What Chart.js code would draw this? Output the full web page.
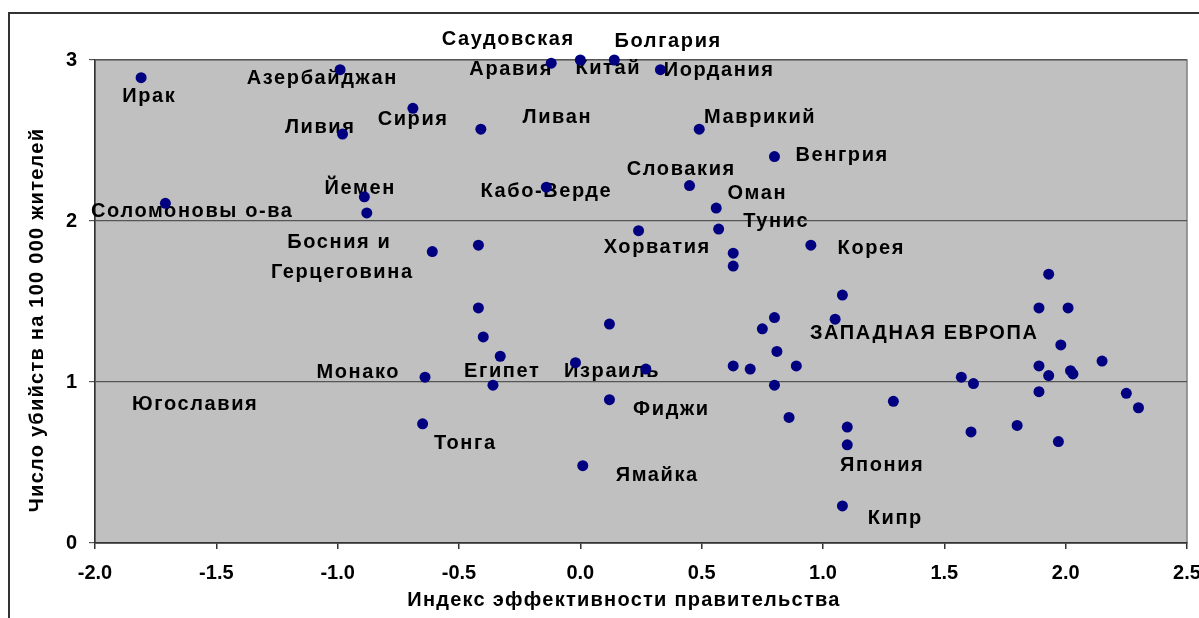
<!DOCTYPE html>
<html>
<head>
<meta charset="utf-8">
<script src="https://cdn.jsdelivr.net/npm/chart.js@4.4.1/dist/chart.umd.min.js"></script>
<style>
  html, body { margin: 0; padding: 0; background: #fff; overflow: hidden; }
  #wrap { position: relative; width: 1199px; height: 618px; }
  #frame { position: absolute; left: 8px; top: 12px; width: 1300px; height: 700px;
           border-left: 2px solid #333; border-top: 2px solid #333; }
  #chart { position: absolute; left: 0; top: 0; }
</style>
</head>
<body>
<div id="wrap">
  <div id="frame"></div>
  <canvas id="chart" width="1199" height="618"></canvas>
</div>
<script>
// government effectiveness index (x) and homicides per 100 000 (y)
const govIndex = [
  -1.81, -0.99, -0.98, -1.71, -0.89, -0.88, -0.69, -0.41, -0.12, 0.00,
   0.14,  0.33,  0.49,  0.80, -0.14,  0.45,  0.56,  0.24,  0.57, 0.63,
   0.63, -0.61, -0.42,  0.95,  1.93,  1.08, -0.42, -0.40, -0.33, -0.64,
  -0.36, -0.65,  0.12, -0.02,  0.27,  0.12,  0.01,  0.80,  0.75, 0.81,
   0.63,  0.70,  0.89,  0.80,  0.86,  1.05,  1.89,  2.01,  1.98, 1.89,
   1.93,  2.02,  2.03,  2.15,  1.57,  1.62,  1.89,  2.25,  2.30, 1.29,
   1.10,  1.10,  1.61,  1.80,  1.97,  1.08
];
const homicideRate = [
  2.89, 2.94, 2.54, 2.11, 2.15, 2.05, 2.70, 2.57, 2.98, 3.00,
  3.00, 2.94, 2.57, 2.40, 2.21, 2.22, 2.08, 1.94, 1.95, 1.80,
  1.72, 1.81, 1.85, 1.85, 1.67, 1.54, 1.46, 1.28, 1.16, 1.03,
  0.98, 0.74, 1.36, 1.12, 1.08, 0.89, 0.48, 1.40, 1.33, 1.19,
  1.10, 1.08, 1.10, 0.98, 0.78, 1.39, 1.46, 1.46, 1.23, 1.10,
  1.04, 1.07, 1.05, 1.13, 1.03, 0.99, 0.94, 0.93, 0.84, 0.88,
  0.72, 0.61, 0.69, 0.73, 0.63, 0.23
];

// country labels, placed by the centre of the text in data units
const labelText = [
  "Ирак", "Азербайджан", "Ливия", "Йемен", "Соломоновы о-ва", "Босния и", "Герцеговина",
  "Сирия", "Саудовская", "Аравия", "Китай", "Болгария", "Иордания", "Ливан", "Маврикий",
  "Венгрия", "Словакия", "Кабо-Верде", "Оман", "Тунис", "Хорватия", "Корея",
  "ЗАПАДНАЯ ЕВРОПА", "Монако", "Югославия", "Египет", "Израиль", "Фиджи", "Тонга",
  "Ямайка", "Япония", "Кипр"
];
const labelX = [
  -1.776, -1.063, -1.072, -0.907, -1.599, -0.993, -0.981,
  -0.689, -0.297, -0.285, 0.115, 0.362, 0.572, -0.095, 0.741,
  1.079, 0.416, -0.140, 0.729, 0.807, 0.317, 1.199,
  1.417, -0.915, -1.587, -0.322, 0.131, 0.375, -0.474,
  0.317, 1.244, 1.298
];
const labelY = [
  2.774, 2.884, 2.581, 2.204, 2.058, 1.868, 1.683,
  2.632, 3.126, 2.940, 2.950, 3.112, 2.935, 2.643, 2.643,
  2.405, 2.322, 2.183, 2.173, 1.994, 1.835, 1.831,
  1.302, 1.057, 0.861, 1.068, 1.063, 0.830, 0.618,
  0.421, 0.479, 0.152
];

const xTicks = [-2.0, -1.5, -1.0, -0.5, 0.0, 0.5, 1.0, 1.5, 2.0, 2.5];
const yTicks = [0, 1, 2, 3];

const xTitle = "Индекс эффективности правительства";
const yTitle = "Число убийств на 100 000 жителей";

const FONT = "'Liberation Sans', Arial, sans-serif";

const plotBackground = {
  id: "plotBackground",
  beforeDraw(chart) {
    const { ctx, chartArea: a } = chart;
    ctx.save();
    ctx.fillStyle = "#c0c0c0";
    ctx.fillRect(a.left, a.top, a.right - a.left, a.bottom - a.top);
    ctx.strokeStyle = "#808080";
    ctx.lineWidth = 1.5;
    ctx.strokeRect(a.left, a.top, a.right - a.left, a.bottom - a.top);
    ctx.restore();
  }
};

// labels go under the points, like in the original
const countryLabels = {
  id: "countryLabels",
  beforeDatasetsDraw(chart) {
    const { ctx, scales } = chart;
    ctx.save();
    ctx.font = "bold 20px " + FONT;
    ctx.letterSpacing = "1.6px";
    ctx.fillStyle = "#000";
    ctx.textAlign = "center";
    ctx.textBaseline = "middle";
    labelText.forEach((t, i) => {
      ctx.fillText(t, scales.x.getPixelForValue(labelX[i]), scales.y.getPixelForValue(labelY[i]));
    });
    ctx.restore();
  }
};

const axisTitles = {
  id: "axisTitles",
  afterDraw(chart) {
    const { ctx } = chart;
    ctx.save();
    ctx.font = "bold 20px " + FONT;
    ctx.letterSpacing = "1.25px";
    ctx.fillStyle = "#000";
    ctx.textAlign = "center";
    ctx.textBaseline = "middle";
    ctx.fillText(xTitle, 624, 600);
    ctx.translate(37, 320);
    ctx.rotate(-Math.PI / 2);
    ctx.fillText(yTitle, 0, 0);
    ctx.restore();
  }
};

const canvas = document.getElementById("chart");
canvas.getContext("2d").letterSpacing = "0.4px";

new Chart(canvas, {
  type: "scatter",
  data: {
    datasets: [{
      data: govIndex.map((x, i) => ({ x, y: homicideRate[i] })),
      backgroundColor: "#000080",
      borderWidth: 0,
      pointRadius: 5.5,
      pointHoverRadius: 5.5,
      clip: false
    }]
  },
  options: {
    responsive: false,
    animation: false,
    layout: { padding: { left: 0, top: 60, right: 12, bottom: 0 } },
    plugins: { legend: { display: false }, tooltip: { enabled: false } },
    scales: {
      x: {
        type: "linear",
        min: -2, max: 2.5,
        afterBuildTicks: axis => { axis.ticks = xTicks.map(v => ({ value: v })); },
        afterFit: axis => { axis.height = 75; axis.paddingLeft = 0; axis.paddingRight = 0; },
        ticks: {
          callback: v => v.toFixed(1),
          color: "#000",
          font: { family: FONT, size: 20, weight: "bold" },
          padding: 12,
          maxRotation: 0
        },
        grid: { drawOnChartArea: false, color: "#333", tickLength: 6, lineWidth: 1.5 },
        border: { color: "#333", width: 1.5 }
      },
      y: {
        min: 0, max: 3,
        afterBuildTicks: axis => { axis.ticks = yTicks.map(v => ({ value: v })); },
        afterFit: axis => { axis.width = 95; axis.paddingTop = 0; axis.paddingBottom = 0; },
        ticks: {
          color: "#000",
          font: { family: FONT, size: 20, weight: "bold" },
          padding: 12
        },
        grid: { color: "#555", tickLength: 6, lineWidth: 1.2 },
        border: { color: "#333", width: 1.5 }
      }
    }
  },
  plugins: [plotBackground, countryLabels, axisTitles]
});
</script>
</body>
</html>
